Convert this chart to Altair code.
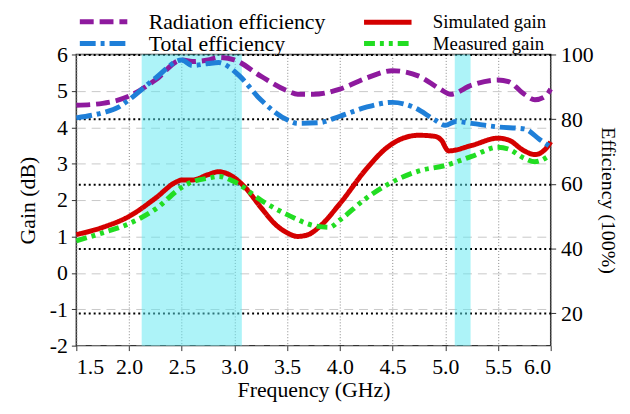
import altair as alt
import pandas as pd

# ---- data ----
freq_rad = [1.5, 1.75, 2.0, 2.25, 2.5, 2.6, 2.75, 2.85, 3.0, 3.25, 3.5, 3.6, 3.75, 4.0, 4.25, 4.5, 4.75, 4.95, 5.05, 5.25, 5.5, 5.6, 5.75, 5.85, 5.95, 6.0]
rad_eff = [84.3, 84.9, 87.1, 92.1, 98.3, 97.8, 98.3, 99.1, 98.3, 93.3, 88.8, 87.7, 87.7, 89.3, 92.7, 95.0, 93.3, 89.3, 87.7, 90.5, 92.1, 91.6, 87.7, 86.0, 87.1, 89.3]

freq_tot = [1.5, 1.75, 1.9, 2.0, 2.25, 2.5, 2.6, 2.75, 2.85, 2.95, 3.05, 3.25, 3.5, 3.6, 3.8, 4.0, 4.25, 4.5, 4.7, 4.9, 5.0, 5.1, 5.25, 5.5, 5.75, 5.9, 6.0]
tot_eff = [80.4, 82.0, 83.7, 86.0, 92.7, 98.3, 96.6, 97.2, 97.5, 96.1, 93.3, 86.0, 79.8, 78.7, 78.9, 80.9, 83.7, 85.2, 83.7, 79.8, 78.1, 79.3, 78.7, 77.6, 77.0, 73.6, 71.4]

freq_sim = [1.5, 1.75, 2.0, 2.25, 2.45, 2.5, 2.6, 2.75, 2.85, 2.95, 3.1, 3.25, 3.4, 3.5, 3.6, 3.7, 3.8, 4.0, 4.25, 4.45, 4.6, 4.75, 4.9, 4.97, 5.0, 5.03, 5.25, 5.5, 5.6, 5.75, 5.85, 5.95, 6.0]
sim_gain = [1.05, 1.25, 1.55, 2.05, 2.5, 2.55, 2.55, 2.7, 2.78, 2.7, 2.35, 1.8, 1.3, 1.1, 1.0, 1.05, 1.25, 1.9, 2.85, 3.45, 3.7, 3.78, 3.75, 3.62, 3.45, 3.35, 3.5, 3.7, 3.65, 3.35, 3.25, 3.4, 3.6]

freq_meas = [1.5, 1.75, 2.0, 2.25, 2.5, 2.6, 2.75, 2.85, 3.0, 3.25, 3.5, 3.75, 3.9, 4.0, 4.25, 4.5, 4.75, 5.0, 5.25, 5.5, 5.6, 5.75, 5.85, 6.0]
meas_gain = [0.88, 1.1, 1.35, 1.75, 2.35, 2.5, 2.6, 2.65, 2.5, 2.0, 1.6, 1.3, 1.25, 1.45, 2.05, 2.5, 2.8, 2.95, 3.2, 3.45, 3.4, 3.15, 3.05, 3.25]

band_start = [2.12, 5.09]
band_end = [3.07, 5.24]

# legend is filled column by column: col 1 = efficiencies, col 2 = gains
series_names = ["Radiation efficiency", "Total efficiency", "Simulated gain", "Measured gain"]
series_colors = ["#8e1a9e", "#1f7fd8", "#d40000", "#22dd22"]
series_dash = [[14, 6], [16, 5, 4, 5], [1, 0], [11, 5, 4, 5, 4, 5]]

x_ticks = [1.5, 2.0, 2.5, 3.0, 3.5, 4.0, 4.5, 5.0, 5.5, 6.0]
gain_ticks = [-2, -1, 0, 1, 2, 3, 4, 5, 6]
eff_ticks = [20, 40, 60, 80, 100]

FONT = "Liberation Serif"
FS = 22

eff_df = pd.concat([
    pd.DataFrame({"freq": freq_rad, "val": rad_eff, "series": series_names[0]}),
    pd.DataFrame({"freq": freq_tot, "val": tot_eff, "series": series_names[1]}),
])
gain_df = pd.concat([
    pd.DataFrame({"freq": freq_sim, "val": sim_gain, "series": series_names[2]}),
    pd.DataFrame({"freq": freq_meas, "val": meas_gain, "series": series_names[3]}),
])
band_df = pd.DataFrame({"start": band_start, "end": band_end})

legend = alt.Legend(
    orient="none", legendX=1, legendY=-42, columns=2, title=None,
    symbolType="stroke", symbolSize=2300, symbolStrokeWidth=5,
    labelFont=FONT,
    labelFontSize={"expr": "(datum.label == 'Simulated gain' || datum.label == 'Measured gain') ? 19 : 22"},
    labelColor="black", labelOffset=19,
    columnPadding=36, rowPadding=0, clipHeight=18, labelLimit=300,
)
color = alt.Color("series:N", scale=alt.Scale(domain=series_names, range=series_colors), legend=legend)
dash = alt.StrokeDash("series:N", scale=alt.Scale(domain=series_names, range=series_dash), legend=legend)

x_enc = alt.X(
    "freq:Q",
    scale=alt.Scale(domain=[1.5, 6.0], nice=False, zero=False),
    axis=alt.Axis(values=x_ticks, format=".1f", title="Frequency (GHz)", grid=True,
                  gridDash=[1, 2], gridColor="#888", gridWidth=1,
                  tickSize=5, tickColor="#333", domain=False,
                  labelFont=FONT, labelFontSize=FS, labelColor="black", labelPadding=6,
                  titleFont=FONT, titleFontSize=FS, titleFontWeight="normal", titleColor="black", titlePadding=2),
)

bands = alt.Chart(band_df).mark_rect(color="#5ce8f2", opacity=0.5).encode(
    x=alt.X("start:Q", scale=alt.Scale(domain=[1.5, 6.0], nice=False, zero=False)),
    x2="end:Q",
    y=alt.value(0), y2=alt.value(294),
)

gain_lines = alt.Chart(gain_df).mark_line(strokeWidth=5, interpolate="monotone").encode(
    x=x_enc,
    y=alt.Y("val:Q", scale=alt.Scale(domain=[-2, 6], nice=False, zero=False),
            axis=alt.Axis(orient="left", values=gain_ticks, title="Gain (dB)", grid=True,
                          labelExpr="'' + datum.value",
                          gridDash=[9, 6], gridColor="#c8c8c8", gridWidth=1,
                          tickSize=5, tickColor="#333", domain=False,
                          labelFont=FONT, labelFontSize=FS, labelColor="black", labelPadding=4,
                          titleFont=FONT, titleFontSize=FS, titleFontWeight="normal", titleColor="black", titlePadding=10)),
    color=color, strokeDash=dash, detail="series:N",
)

eff_lines = alt.Chart(eff_df).mark_line(strokeWidth=5, interpolate="monotone").encode(
    x=x_enc,
    y=alt.Y("val:Q", scale=alt.Scale(domain=[10, 100], nice=False, zero=False),
            axis=alt.Axis(orient="right", values=eff_ticks, title="Efficiency (100%)", grid=True,
                          gridDash=[2, 3], gridColor="black", gridWidth=2,
                          tickSize=5, tickColor="#333", domain=False,
                          labelFont=FONT, labelFontSize=FS, labelColor="black", labelPadding=5,
                          titleFont=FONT, titleFontSize=20, titleFontWeight="normal", titleColor="black", titlePadding=4)),
    color=color, strokeDash=dash, detail="series:N",
)

chart = alt.layer(bands, gain_lines, eff_lines).resolve_scale(y="independent").properties(
    width=479, height=294,
    autosize=alt.AutoSizeParams(type="none"),
    padding={"left": 69, "top": 45, "right": 72, "bottom": 56},
    background="white",
).configure_view(stroke="#333", strokeWidth=1.5)

chart.save("out.html", embed_options={"renderer": "svg", "actions": False})
